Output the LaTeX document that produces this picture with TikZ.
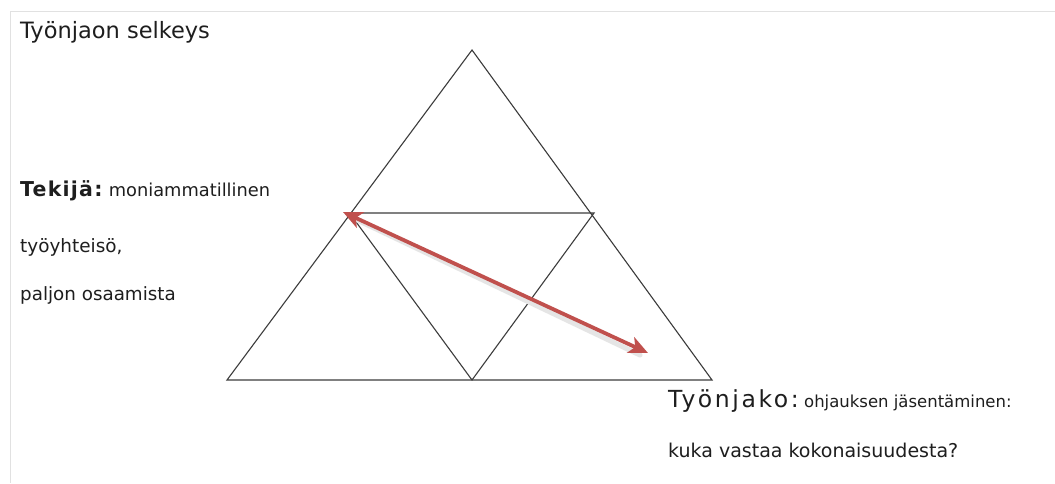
\documentclass[tikz,border=0pt]{standalone}
\usepackage{fontspec}
\setmainfont{DejaVu Sans}
\newfontfamily\spacedfont[LetterSpace=11]{DejaVu Sans}
\newfontfamily\lightspaced[LetterSpace=6]{DejaVu Sans}
\usetikzlibrary{arrows.meta}
\definecolor{framegray}{RGB}{225,225,225}
\definecolor{linegray}{RGB}{60,60,60}
\definecolor{arrowred}{RGB}{192,80,77}
\definecolor{txt}{RGB}{30,30,30}
\tikzset{
  tri/.style={draw=linegray, line width=1.1pt, line join=miter},
  bigarrow/.style={draw=arrowred, line width=3.8pt, {Stealth[length=19pt,width=17pt,inset=5pt]}-{Stealth[length=19pt,width=17pt,inset=5pt]}},
  shadowarrow/.style={draw=black!10, line width=5pt, line cap=round},
  lbl/.style={anchor=base west, inner sep=0pt, text=txt},
}
\begin{document}
\begin{tikzpicture}[x=1pt,y=-1pt]
\useasboundingbox (0,0) rectangle (1055,483);
\fill[white] (0,0) rectangle (1055,483);
\draw[framegray, line width=1pt] (10,483) -- (10,11) -- (1055,11);
% triangle
\coordinate (A) at (472,50);
\coordinate (B) at (227,380);
\coordinate (C) at (712,380);
\coordinate (L) at (349.5,213);
\coordinate (R) at (594,213);
\coordinate (M) at (472,380);
\draw[tri] (A) -- (B) -- (C) -- cycle;
\draw[tri] (L) -- (R) -- (M) -- cycle;
% arrow
\coordinate (P) at (343,212);
\coordinate (Q) at (648,353);
\draw[shadowarrow] ([shift={(8,5)}]P) -- ([shift={(-8,2)}]Q);
\draw[bigarrow] (P) -- (Q);
% texts
\node[lbl, font=\fontsize{22.5}{26}\selectfont] (title) at (20,38) {Työnjaon selkeys};
\node[lbl, font=\fontsize{20.5}{24}\lightspaced\bfseries] (tek) at (20,196) {Tekijä:};
\node[lbl, font=\fontsize{17.8}{21}\selectfont] (tek2) at ([xshift=6pt]tek.base east) {moniammatillinen};
\node[lbl, font=\fontsize{18.4}{22}\selectfont] (ty) at (20,252) {työyhteisö,};
\node[lbl, font=\fontsize{18.3}{22}\selectfont] (pal) at (20,300) {paljon osaamista};
\node[lbl, font=\fontsize{23.5}{28}\spacedfont] (tj) at (668,407) {Työnjako:};
\node[lbl, font=\fontsize{16.5}{20}\selectfont] (tj2) at ([xshift=5pt]tj.base east) {ohjauksen jäsentäminen:};
\node[lbl, font=\fontsize{19}{22}\selectfont] (kuka) at (668,457) {kuka vastaa kokonaisuudesta?};
\end{tikzpicture}
\end{document}
